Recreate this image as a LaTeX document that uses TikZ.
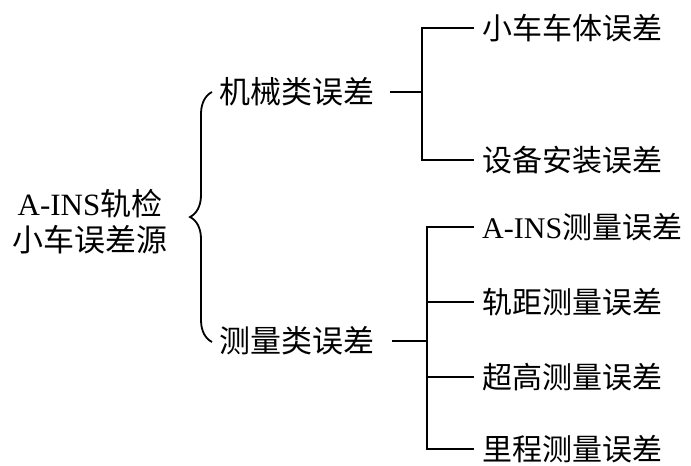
\documentclass[tikz,border=0pt]{standalone}
\usepackage{fontspec}
\setmainfont{Liberation Serif}
\newfontfamily\cjk{Noto Sans CJK SC}
\usetikzlibrary{decorations.pathreplacing}
\begin{document}
\begin{tikzpicture}[x=1pt,y=-1pt,
  lbl/.style={font=\fontsize{31}{36}\selectfont, inner sep=0pt},
  mid/.style={lbl, anchor=west},
  leaf/.style={font=\fontsize{30}{35}\selectfont, inner sep=0pt, anchor=west, inner xsep=8pt},
  conn/.style={line width=1.9pt},
  bracestyle/.style={line width=1.8pt, decorate, decoration={brace, amplitude=22pt}}]
\useasboundingbox (0,0) rectangle (691,466);
% root
\node[lbl, align=center] (root) at (90,222) {A-INS{\cjk 轨检}\\{\cjk 小车误差源}};
% middle level
\node[mid] (mech) at (219,92) {\cjk 机械类误差};
\node[mid] (meas) at (219,341) {\cjk 测量类误差};
% brace
\draw[bracestyle] (212,342) -- (212,92);
% leaves
\node[leaf] (l1) at (474,28) {\cjk 小车车体误差};
\node[leaf] (l2) at (474,160) {\cjk 设备安装误差};
\node[leaf] (l3) at (474,227) {A-INS{\cjk 测量误差}};
\node[leaf] (l4) at (474,302) {\cjk 轨距测量误差};
\node[leaf] (l5) at (474,377) {\cjk 超高测量误差};
\node[leaf] (l6) at (474,449) {\cjk 里程测量误差};
% connector junctions
\coordinate (j1) at (422,92);
\coordinate (j2) at (427,341);
% upper group
\draw[conn] ([xshift=16pt]mech.east) -- (j1);
\draw[conn] (l1.west) -| (j1 |- l2.west) -- (l2.west);
% lower group
\draw[conn] ([xshift=18pt]meas.east) -- (j2);
\draw[conn] (l3.west) -| (j2 |- l6.west) -- (l6.west);
\draw[conn] (j2 |- l4.west) -- (l4.west);
\draw[conn] (j2 |- l5.west) -- (l5.west);
\end{tikzpicture}
\end{document}
